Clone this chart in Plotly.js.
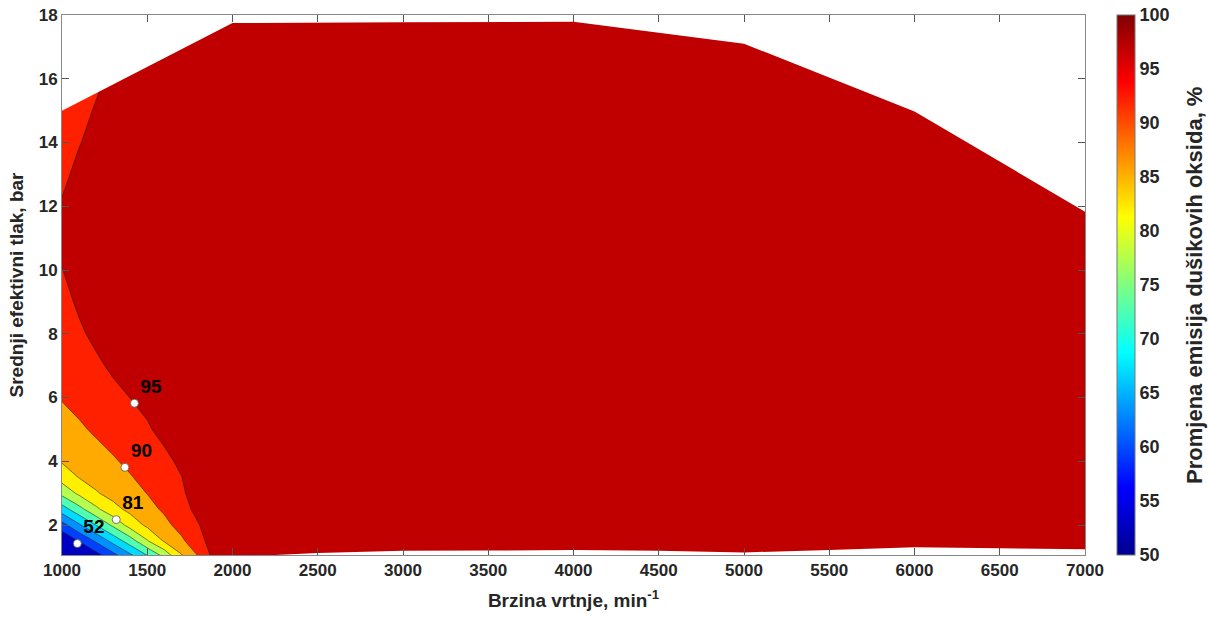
<!DOCTYPE html>
<html>
<head>
<meta charset="utf-8">
<script src="https://cdn.plot.ly/plotly-3.0.1.min.js"></script>
<style>html,body{margin:0;padding:0;background:#fff;}#chart{width:1208px;height:622px;}</style>
</head>
<body>
<div id="chart"></div>
<script>
// Engine speed grid (min^-1)
const SPEED = [1000, 1100, 1200, 1300, 1400, 1500, 1600, 1700, 1800, 1900, 2000, 3000, 4000, 5000, 6000, 7000];
// BMEP grid (bar)
const BMEP = [1, 1.5, 2, 2.5, 3, 3.5, 4, 5, 6, 7, 8, 9, 10, 11, 12, 13, 14, 15, 16, 18];
// Change of NOx emissions (%), rows follow BMEP, columns follow SPEED
const NOX = [
  [47.0, 49.2, 52.2, 57.5, 63.1, 69.0, 75.5, 84.1, 89.9, 97.0, 98, 98, 98, 98, 98, 98],
  [50.0, 55.2, 60.7, 66.6, 72.6, 79.6, 85.5, 89.1, 93.3, 97.7, 98, 98, 98, 98, 98, 98],
  [58.1, 64.3, 70.1, 76.0, 82.0, 86.0, 88.7, 91.7, 94.8, 97.8, 98, 98, 98, 98, 98, 98],
  [67.7, 73.4, 79.0, 83.5, 86.3, 88.5, 90.7, 93.2, 96.4, 97.8, 98, 98, 98, 98, 98, 98],
  [76.5, 81.0, 84.6, 86.6, 88.3, 90.1, 92.2, 94.2, 97.5, 98, 98, 98, 98, 98, 98, 98],
  [82.1, 85.2, 86.7, 88.2, 89.7, 91.4, 93.2, 94.9, 97.5, 98, 98, 98, 98, 98, 98, 98],
  [85.4, 86.8, 88.1, 89.5, 91.0, 92.5, 93.9, 95.9, 97.5, 98, 98, 98, 98, 98, 98, 98],
  [88.0, 89.3, 90.7, 92.0, 93.2, 94.5, 96.3, 97.3, 98, 98, 98, 98, 98, 98, 98, 98],
  [90.3, 91.5, 92.7, 93.9, 95.05, 96.2, 97.2, 98, 98, 98, 98, 98, 98, 98, 98, 98],
  [91.4, 92.8, 94.3, 95.7, 96.8, 97.6, 98, 98, 98, 98, 98, 98, 98, 98, 98, 98],
  [92.6, 94.4, 95.9, 97.0, 97.8, 98, 98, 98, 98, 98, 98, 98, 98, 98, 98, 98],
  [93.8, 95.6, 97.0, 97.8, 98, 98, 98, 98, 98, 98, 98, 98, 98, 98, 98, 98],
  [94.9, 96.8, 97.8, 98, 98, 98, 98, 98, 98, 98, 98, 98, 98, 98, 98, 98],
  [95.8, 97.3, 98, 98, 98, 98, 98, 98, 98, 98, 98, 98, 98, 98, 98, 98],
  [95.3, 97.0, 98, 98, 98, 98, 98, 98, 98, 98, 98, 98, 98, 98, 98, 98],
  [94.3, 95.8, 97.2, 98, 98, 98, 98, 98, 98, 98, 98, 98, 98, 98, 98, 98],
  [93.6, 94.85, 96.0, 97.2, 98, 98, 98, 98, 98, 98, 98, 98, 98, 98, 98, 98],
  [93.0, 94.0, 95.3, 96.5, 97.5, 98, 98, 98, 98, 98, 98, 98, 98, 98, 98, 98],
  [92.5, 93.3, 94.4, 95.7, 96.8, 97.6, 98, 98, 98, 98, 98, 98, 98, 98, 98, 98],
  [92.0, 92.5, 93.3, 94.3, 95.3, 96.2, 97.0, 97.6, 98, 98, 98, 98, 98, 98, 98, 98]
];
// Operating envelope: full-load (upper) and minimum-load (lower) curves
const TOP_X = [1000, 1200, 2000, 3000, 4000, 5000, 6000, 7000];
const TOP_Y = [15.0, 15.55, 17.75, 17.77, 17.79, 17.1, 14.97, 11.83];
const BOT_X = [1000, 2000, 2500, 3000, 3500, 4000, 4500, 5000, 5500, 6000, 6500, 7000];
const BOT_Y = [1.0, 1.0, 1.12, 1.19, 1.2, 1.22, 1.19, 1.14, 1.22, 1.3, 1.27, 1.24];
// Labelled points
const PT_X = [1090, 1318, 1369, 1425];
const PT_Y = [1.42, 2.17, 3.81, 5.82];
const PT_LABEL = ['52', '81', '90', '95'];
// Contour levels and colorbar ticks
const LEVEL_START = 55, LEVEL_END = 95, LEVEL_STEP = 5;
const CBAR_TICKS = [50, 55, 60, 65, 70, 75, 80, 85, 90, 95, 100];
const CBAR_TITLE = 'Promjena emisija dušikovih oksida, %';
const X_TICKS = [1000, 1500, 2000, 2500, 3000, 3500, 4000, 4500, 5000, 5500, 6000, 6500, 7000];
const Y_TICKS = [2, 4, 6, 8, 10, 12, 14, 16, 18];

// band colours (below 55, 55-60, ..., above 95)
const BAND_COLORS = ['#0000c0', '#0040ff', '#0090ff', '#00dcff', '#50ffb4', '#b4ff50', '#fff000', '#ffaa00', '#ff2000', '#c00000'];
const bandScale = BAND_COLORS.map((c, i) => [i / (BAND_COLORS.length - 1), c]);
const JET = [[0, 'rgb(0,0,143)'], [0.125, 'rgb(0,0,255)'], [0.375, 'rgb(0,255,255)'],
             [0.625, 'rgb(255,255,0)'], [0.875, 'rgb(255,0,0)'], [1, 'rgb(128,0,0)']];

const FONT = 'Liberation Sans, Arial, Helvetica, sans-serif';

const contour = {
  type: 'contour', x: SPEED, y: BMEP, z: NOX,
  autocontour: false,
  contours: {start: LEVEL_START, end: LEVEL_END, size: LEVEL_STEP, coloring: 'fill', showlines: true},
  colorscale: bandScale, showscale: false,
  line: {color: '#262626', width: 0.6, smoothing: 0},
  hoverinfo: 'skip'
};

const topMask = {
  type: 'scatter', mode: 'lines',
  x: TOP_X.concat([TOP_X[TOP_X.length - 1], TOP_X[0]]),
  y: TOP_Y.concat([19, 19]),
  fill: 'toself', fillcolor: '#ffffff', line: {width: 0, color: '#ffffff'},
  hoverinfo: 'skip', showlegend: false
};
const botMask = {
  type: 'scatter', mode: 'lines',
  x: BOT_X.concat([BOT_X[BOT_X.length - 1], BOT_X[0]]),
  y: BOT_Y.concat([0, 0]),
  fill: 'toself', fillcolor: '#ffffff', line: {width: 0, color: '#ffffff'},
  hoverinfo: 'skip', showlegend: false
};

const points = {
  type: 'scatter', mode: 'markers+text',
  x: PT_X, y: PT_Y, text: PT_LABEL, textposition: 'top right',
  textfont: {family: FONT, size: 19, color: '#000', weight: 'bold'},
  marker: {size: 8, color: '#ffffff', line: {color: '#555', width: 0.8}},
  cliponaxis: false, showlegend: false, hoverinfo: 'skip'
};

const cbar = {
  type: 'scatter', mode: 'markers', x: [0, 0], y: [0, 0],
  marker: {
    color: [CBAR_TICKS[0], CBAR_TICKS[CBAR_TICKS.length - 1]],
    cmin: CBAR_TICKS[0], cmax: CBAR_TICKS[CBAR_TICKS.length - 1],
    colorscale: JET, size: 1, opacity: 0, showscale: true,
    colorbar: {
      x: 1.031, xanchor: 'left', xpad: 0, y: 0.5, yanchor: 'middle', ypad: 0,
      len: 1, lenmode: 'fraction', thickness: 18, thicknessmode: 'pixels',
      outlinewidth: 1, outlinecolor: '#777',
      tickvals: CBAR_TICKS, ticks: '', ticklabelposition: 'outside',
      tickfont: {family: FONT, size: 18, color: '#262626', weight: 'bold'}
    }
  },
  showlegend: false, hoverinfo: 'skip'
};

const layout = {
  width: 1208, height: 622,
  margin: {l: 62, r: 123, t: 15, b: 67},
  paper_bgcolor: '#ffffff', plot_bgcolor: '#ffffff',
  showlegend: false,
  xaxis: {
    range: [1000, 7000], tickvals: X_TICKS, ticks: 'inside', ticklen: 7, tickcolor: '#555',
    showline: true, linecolor: '#888', linewidth: 1, mirror: 'ticks',
    showgrid: false, zeroline: false, automargin: false,
    tickfont: {family: FONT, size: 17, color: '#262626', weight: 'bold'},
    title: {text: 'Brzina vrtnje, min<sup>-1</sup>', standoff: 14,
            font: {family: FONT, size: 19, color: '#262626', weight: 'bold'}}
  },
  yaxis: {
    range: [1.06, 18], tickvals: Y_TICKS, ticks: 'inside', ticklen: 7, tickcolor: '#555',
    showline: true, linecolor: '#888', linewidth: 1, mirror: 'ticks',
    showgrid: false, zeroline: false, automargin: false,
    tickfont: {family: FONT, size: 17, color: '#262626', weight: 'bold'},
    title: {text: 'Srednji efektivni tlak, bar', standoff: 10,
            font: {family: FONT, size: 19, color: '#262626', weight: 'bold'}}
  },
  annotations: [{
    text: CBAR_TITLE, xref: 'paper', yref: 'paper', x: 1.1065, y: 0.5,
    xanchor: 'center', yanchor: 'middle', textangle: -90, showarrow: false,
    font: {family: FONT, size: 22, color: '#262626', weight: 'bold'}
  }]
};

Plotly.newPlot('chart', [contour, topMask, botMask, points, cbar], layout, {displayModeBar: false, staticPlot: true});
</script>
</body>
</html>
